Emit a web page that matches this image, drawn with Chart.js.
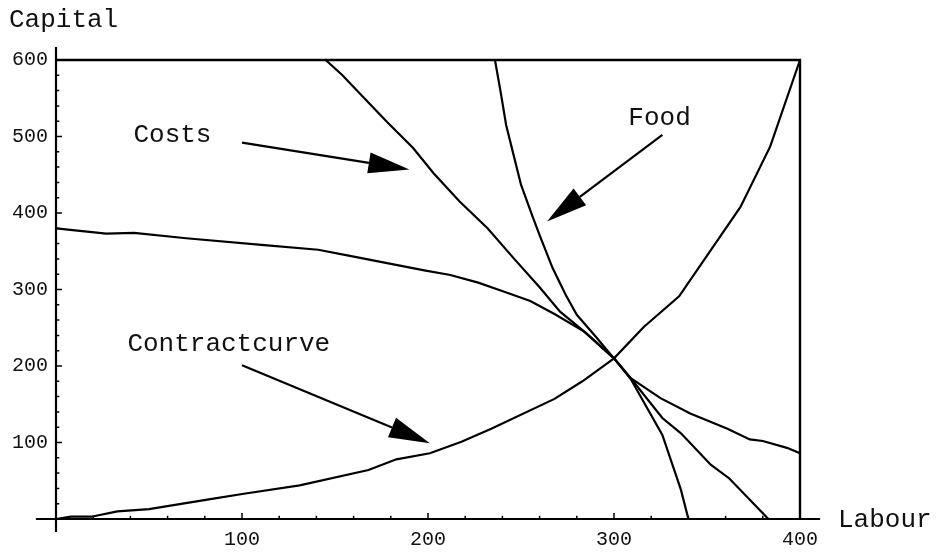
<!DOCTYPE html>
<html>
<head>
<meta charset="utf-8">
<script src="https://cdn.jsdelivr.net/npm/chart.js@4.4.0/dist/chart.umd.min.js"></script>
<style>
  html, body { margin: 0; padding: 0; background: #ffffff; }
  #wrap { width: 937px; height: 552px; position: relative; }
</style>
</head>
<body>
<div id="wrap"><canvas id="chart" width="937" height="552"></canvas></div>
<script>
// Edgeworth box: labour (x) and capital (y) allocations.
const contractX = [0, 8, 19, 33, 50, 83, 101, 131, 168, 183, 201, 218, 234, 268, 283, 300, 316, 335, 368, 384, 400];
const contractY = [0, 3, 3, 10, 13, 26, 33, 44, 64, 78, 86, 101, 118, 157, 180, 210, 251, 291, 408, 487, 600];

const isoX = [0, 27, 42, 70, 112, 141, 158, 198, 212, 227, 241, 255, 268, 284, 300, 309, 325, 341, 361, 373, 380, 393, 400];
const isoY = [380, 373, 374, 367, 358, 352, 344, 325, 319, 309, 297, 285, 268, 245, 210, 184, 158, 138, 118, 104, 102, 93, 86];

const costsX = [145, 154, 165, 178, 192, 203, 217, 232, 246, 260, 271, 285, 300, 309, 326, 336, 352, 362, 383];
const costsY = [600, 580, 552, 519, 485, 452, 415, 380, 341, 303, 271, 243, 210, 184, 132, 112, 71, 53, 0];

const foodX = [236, 239, 242, 246, 250, 256, 260, 267, 274, 280, 290, 300, 309, 326, 336, 340];
const foodY = [600, 559, 515, 476, 437, 397, 371, 328, 293, 267, 239, 210, 183, 110, 38, 0];

const boxX = [0, 400, 400];
const boxY = [600, 600, 0];

// Tick labels
const xTickLabels = ['100', '200', '300', '400'];
const yTickLabels = ['100', '200', '300', '400', '500', '600'];

// Annotations: label text, where its baseline sits, and the arrow (tail -> tip)
const noteText  = ['Costs', 'Food', 'Contractcurve'];
const noteX     = [62.6, 324.5, 92.9];
const noteY     = [493, 515, 220];
const arrowFrom = [[100, 492], [326, 502], [100, 201]];
const arrowTo   = [[190, 457], [264, 389], [201, 99]];

const toPoints = (xs, ys) => xs.map((x, i) => ({ x: x, y: ys[i] }));

const lineStyle = {
  borderColor: '#000000',
  borderWidth: 2.2,
  pointRadius: 0,
  tension: 0,
  fill: false,
  showLine: true,
  clip: false
};

const monoFont = '"Liberation Mono", "DejaVu Sans Mono", monospace';

const decor = {
  id: 'decor',
  afterDatasetsDraw(chart) {
    const ctx = chart.ctx;
    const xs = chart.scales.x, ys = chart.scales.y;
    const px = v => xs.getPixelForValue(v);
    const py = v => ys.getPixelForValue(v);
    ctx.save();
    ctx.strokeStyle = '#000000';
    ctx.fillStyle = '#000000';
    ctx.lineCap = 'butt';

    // axes crossing at the origin
    ctx.lineWidth = 2.2;
    ctx.beginPath();
    ctx.moveTo(px(-10.8), py(0));
    ctx.lineTo(px(410.8), py(0));
    ctx.moveTo(px(0), py(-17));
    ctx.lineTo(px(0), py(617));
    ctx.stroke();

    // tick marks pointing into the plot
    ctx.lineWidth = 1.5;
    ctx.beginPath();
    for (let v = 20; v <= 400; v += 20) {
      const len = v % 100 === 0 ? 6 : 3.3;
      ctx.moveTo(px(v), py(0));
      ctx.lineTo(px(v), py(0) - len);
    }
    for (let v = 20; v <= 600; v += 20) {
      const len = v % 100 === 0 ? 6 : 3.3;
      ctx.moveTo(px(0), py(v));
      ctx.lineTo(px(0) + len, py(v));
    }
    ctx.stroke();

    // arrows
    for (let i = 0; i < arrowFrom.length; i++) {
      const x0 = px(arrowFrom[i][0]), y0 = py(arrowFrom[i][1]);
      const x1 = px(arrowTo[i][0]), y1 = py(arrowTo[i][1]);
      const ang = Math.atan2(y1 - y0, x1 - x0);
      const headLen = 41, headHalf = 10.5;
      const bx = x1 - headLen * Math.cos(ang), by = y1 - headLen * Math.sin(ang);
      ctx.lineWidth = 2.2;
      ctx.beginPath();
      ctx.moveTo(x0, y0);
      ctx.lineTo(bx, by);
      ctx.stroke();
      ctx.beginPath();
      ctx.moveTo(x1, y1);
      ctx.lineTo(bx + headHalf * Math.sin(ang), by - headHalf * Math.cos(ang));
      ctx.lineTo(bx - headHalf * Math.sin(ang), by + headHalf * Math.cos(ang));
      ctx.closePath();
      ctx.fill();
    }

    // annotation labels
    ctx.font = '26px ' + monoFont;
    ctx.fillStyle = '#111111';
    ctx.textAlign = 'center';
    ctx.textBaseline = 'alphabetic';
    for (let i = 0; i < noteText.length; i++) {
      ctx.fillText(noteText[i], px(noteX[i]), py(noteY[i]));
    }

    // axis titles
    ctx.textAlign = 'left';
    ctx.fillText('Capital', px(0) - 47, py(600) - 33);
    ctx.fillText('Labour', px(400) + 38, py(0) + 8);
    ctx.restore();
  }
};

new Chart(document.getElementById('chart'), {
  type: 'scatter',
  data: {
    datasets: [
      Object.assign({ label: 'Box', data: toPoints(boxX, boxY) }, lineStyle, { borderWidth: 2.4 }),
      Object.assign({ label: 'Contractcurve', data: toPoints(contractX, contractY) }, lineStyle),
      Object.assign({ label: 'Isoquant', data: toPoints(isoX, isoY) }, lineStyle),
      Object.assign({ label: 'Costs', data: toPoints(costsX, costsY) }, lineStyle),
      Object.assign({ label: 'Food', data: toPoints(foodX, foodY) }, lineStyle)
    ]
  },
  options: {
    responsive: false,
    animation: false,
    layout: { padding: { left: 0, right: 137, top: 60, bottom: 0 } },
    plugins: { legend: { display: false }, tooltip: { enabled: false }, title: { display: false } },
    scales: {
      x: {
        type: 'linear',
        min: 0, max: 400,
        grid: { display: false, drawTicks: false },
        border: { display: false },
        afterFit(s) { s.height = 33; },
        ticks: {
          stepSize: 100,
          padding: 9,
          color: '#111111',
          font: { family: monoFont, size: 20 },
          callback: v => (v === 0 ? '' : xTickLabels[v / 100 - 1])
        }
      },
      y: {
        type: 'linear',
        min: 0, max: 600,
        grid: { display: false, drawTicks: false },
        border: { display: false },
        afterFit(s) { s.width = 56; },
        ticks: {
          stepSize: 100,
          padding: 8,
          color: '#111111',
          font: { family: monoFont, size: 20 },
          callback: v => (v === 0 ? '' : yTickLabels[v / 100 - 1])
        }
      }
    }
  },
  plugins: [decor]
});
</script>
</body>
</html>
